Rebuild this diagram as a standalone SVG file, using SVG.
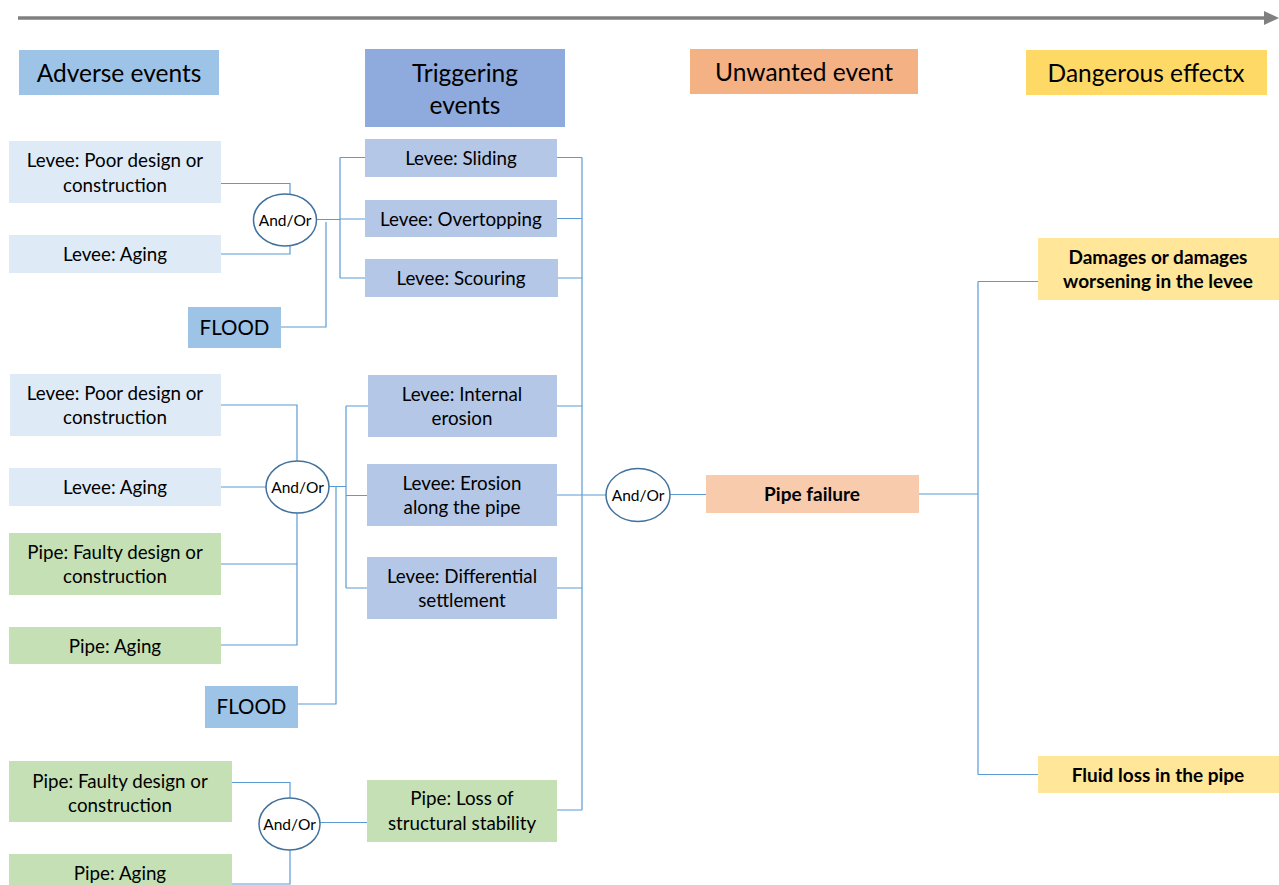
<svg xmlns="http://www.w3.org/2000/svg" width="1279" height="885" viewBox="0 0 1279 885">
<style>
text{font-family:Lato,"Liberation Sans",sans-serif;fill:#000;text-anchor:middle}
.t{font-size:18.8px}
.h{font-size:24.5px}
.f{font-size:20.5px}
.b{font-size:19px;font-weight:bold}
.g{font-size:15.5px}
.c{fill:none;stroke:#5B9BD5;stroke-width:1.2}
.e{fill:#fff;stroke:#41719C;stroke-width:1.5}
.lv{fill:#DEEBF7}.pp{fill:#C5E0B4}.fl{fill:#9DC3E6}.tr{fill:#B4C7E7}
</style>
<rect width="1279" height="885" fill="#fff"/>
<g id="timeline">
<line x1="18" y1="18" x2="1266" y2="18" stroke="#808080" stroke-width="3.5"/>
<polygon points="1264,11 1279,18 1264,25" fill="#808080"/>
</g>
<g id="connectors">
<path class="c" d="M221,183.5H290V194M221,254H290V246M316,219.5H340M340,157.5V278M340,157.5H365M340,219H365M340,278H365M281,327H326V222"/>
<path class="c" d="M557,157.5H582M557,218.5H582M558,278H582M582,157.5V810"/>
<path class="c" d="M221,405H297V461M221,487H266M221,564H297M221,645H297V513M329,486.5H346M346,406V588M346,406H368M346,495.5H368M346,588H368M298,704H336V487"/>
<path class="c" d="M557,406H582M557,495H606M557,588H582"/>
<path class="c" d="M232,782.5H290V798M232,884H290V850M320,822.5H367M557,810H582"/>
<path class="c" d="M670,494.5H706M919,494H978M978,281.5V774.5M978,281.5H1038M978,774.5H1038"/>
</g>
<g id="h-adverse"><rect x="19" y="50" width="200" height="45" fill="#9DC3E6"/><text class="h" x="119" y="82">Adverse events</text></g>
<g id="h-trigger"><rect x="365" y="49" width="200" height="78" fill="#8FAADC"/><text class="h" x="465" y="82">Triggering</text><text class="h" x="465" y="114">events</text></g>
<g id="h-unwanted"><rect x="690" y="49" width="228" height="45" fill="#F4B183"/><text class="h" x="804" y="81">Unwanted event</text></g>
<g id="h-danger"><rect x="1026" y="50" width="241" height="45" fill="#FFD966"/><text class="h" x="1146" y="82">Dangerous effectx</text></g>

<g id="a1"><rect class="lv" x="9" y="141" width="212" height="62"/><text class="t" x="115" y="166.5">Levee: Poor design or</text><text class="t" x="115" y="191.5">construction</text></g>
<g id="a2"><rect class="lv" x="9" y="235" width="212" height="38"/><text class="t" x="115" y="260.5">Levee: Aging</text></g>
<g id="flood1"><rect class="fl" x="188" y="307" width="93" height="41"/><text class="f" x="234.5" y="334.5">FLOOD</text></g>
<g id="gate1"><ellipse class="e" cx="285" cy="220" rx="31.5" ry="26"/><text class="g" x="285" y="225.5">And/Or</text></g>
<g id="t1"><rect class="tr" x="365" y="139" width="192" height="38"/><text class="t" x="461" y="164.5">Levee: Sliding</text></g>
<g id="t2"><rect class="tr" x="365" y="200" width="192" height="37"/><text class="t" x="461" y="225.5">Levee: Overtopping</text></g>
<g id="t3"><rect class="tr" x="365" y="259" width="193" height="38"/><text class="t" x="461" y="284.5">Levee: Scouring</text></g>

<g id="a3"><rect class="lv" x="10" y="374" width="211" height="62"/><text class="t" x="115" y="399.5">Levee: Poor design or</text><text class="t" x="115" y="423.5">construction</text></g>
<g id="a4"><rect class="lv" x="9" y="468" width="212" height="38"/><text class="t" x="115" y="493.5">Levee: Aging</text></g>
<g id="a5"><rect class="pp" x="9" y="533" width="212" height="62"/><text class="t" x="115" y="558.5">Pipe: Faulty design or</text><text class="t" x="115" y="582.5">construction</text></g>
<g id="a6"><rect class="pp" x="9" y="627" width="212" height="37"/><text class="t" x="115" y="652.5">Pipe: Aging</text></g>
<g id="flood2"><rect class="fl" x="205" y="686" width="93" height="42"/><text class="f" x="251.5" y="713.5">FLOOD</text></g>
<g id="gate2"><ellipse class="e" cx="297.5" cy="487" rx="31.5" ry="26"/><text class="g" x="297.5" y="492.5">And/Or</text></g>
<g id="t4"><rect class="tr" x="368" y="375" width="189" height="62"/><text class="t" x="462" y="400.5">Levee: Internal</text><text class="t" x="462" y="424.5">erosion</text></g>
<g id="t5"><rect class="tr" x="367" y="464" width="190" height="62"/><text class="t" x="462" y="489.5">Levee: Erosion</text><text class="t" x="462" y="513.5">along the pipe</text></g>
<g id="t6"><rect class="tr" x="367" y="557" width="190" height="62"/><text class="t" x="462" y="582.5">Levee: Differential</text><text class="t" x="462" y="606.5">settlement</text></g>

<g id="a7"><rect class="pp" x="9" y="761" width="223" height="61"/><text class="t" x="120" y="787.5">Pipe: Faulty design or</text><text class="t" x="120" y="811.5">construction</text></g>
<g id="a8"><rect class="pp" x="9" y="854" width="223" height="31"/><text class="t" x="120" y="880">Pipe: Aging</text></g>
<g id="gate3"><ellipse class="e" cx="289.5" cy="824" rx="30.5" ry="26"/><text class="g" x="289.5" y="829.5">And/Or</text></g>
<g id="t7"><rect class="pp" x="367" y="780" width="190" height="62"/><text class="t" x="462" y="804.5">Pipe: Loss of</text><text class="t" x="462" y="829.5">structural stability</text></g>

<g id="gate4"><ellipse class="e" cx="638" cy="495" rx="32" ry="26.5"/><text class="g" x="638" y="500.5">And/Or</text></g>
<g id="u1"><rect x="706" y="475" width="213" height="38" fill="#F8CBAD"/><text class="b" x="812" y="501">Pipe failure</text></g>
<g id="d1"><rect x="1038" y="238" width="241" height="62" fill="#FFE699"/><text class="b" x="1158" y="264">Damages or damages</text><text class="b" x="1158" y="288">worsening in the levee</text></g>
<g id="d2"><rect x="1038" y="756" width="241" height="37" fill="#FFE699"/><text class="b" x="1158" y="782">Fluid loss in the pipe</text></g>
</svg>
